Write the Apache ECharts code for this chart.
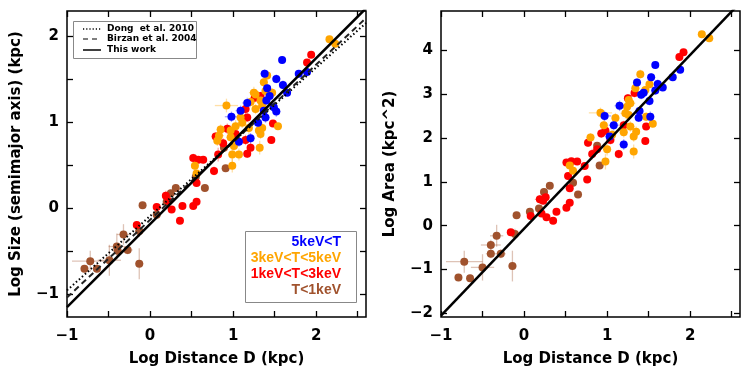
<!DOCTYPE html>
<html>
<head>
<meta charset="utf-8">
<script src="https://cdn.jsdelivr.net/npm/echarts@6/dist/echarts.min.js"></script>
<style>
html,body{margin:0;padding:0;background:#fff;}
#c{width:747px;height:374px;}
</style>
</head>
<body>
<div id="c"></div>
<script>
// ---- Data: [logD, value, xErr, yErr] ----
const sizeBrown = [[-0.79,-0.71,0.04,0.04],[-0.72,-0.62,0.22,0.12],[-0.64,-0.71,0.04,0.05],[-0.49,-0.61,0.14,0.18],[-0.40,-0.45,0.10,0.15],[-0.39,-0.50,0.06,0.07],[-0.32,-0.31,0.08,0.12],[-0.27,-0.49,0.06,0.05],[-0.13,-0.65,0.05,0.18],[-0.13,-0.27,0.05,0.07],[-0.09,0.03,0.04,0.03],[0.08,-0.08,0.03,0.03],[0.20,0.07,0.03,0.03],[0.25,0.17,0.03,0.04],[0.31,0.23,0.03,0.03],[0.55,0.36,0.03,0.03],[0.66,0.23,0.03,0.03],[0.91,0.46,0.03,0.03],[0.89,0.70,0.03,0.03]];
const sizeRed = [[-0.16,-0.20,0.03,0.04],[0.08,0.01,0.03,0.03],[0.19,0.14,0.04,0.06],[0.22,0.08,0.03,0.04],[0.26,-0.02,0.03,0.03],[0.36,-0.15,0.03,0.04],[0.39,0.02,0.03,0.03],[0.52,0.02,0.03,0.03],[0.56,0.07,0.03,0.04],[0.56,0.29,0.03,0.04],[0.52,0.58,0.04,0.05],[0.58,0.56,0.03,0.04],[0.64,0.56,0.03,0.04],[0.77,0.43,0.03,0.05],[0.79,0.83,0.05,0.05],[0.82,0.62,0.04,0.08],[0.88,0.75,0.04,0.06],[0.93,0.92,0.05,0.06],[1.03,0.86,0.04,0.05],[1.15,0.79,0.04,0.06],[1.17,0.63,0.03,0.05],[1.21,0.70,0.04,0.06],[1.15,1.15,0.05,0.06],[1.17,1.05,0.04,0.05],[1.26,1.28,0.04,0.05],[1.33,1.30,0.04,0.05],[1.46,0.79,0.03,0.04],[1.48,0.98,0.03,0.04],[1.89,1.69,0.03,0.03],[1.94,1.78,0.03,0.03]];
const sizeOrange = [[0.54,0.49,0.04,0.05],[0.56,0.40,0.03,0.04],[0.81,0.78,0.05,0.06],[0.83,0.84,0.06,0.08],[0.85,0.91,0.05,0.06],[0.92,1.19,0.14,0.08],[0.97,0.82,0.05,0.07],[0.97,0.90,0.04,0.06],[0.99,0.62,0.05,0.10],[0.99,0.49,0.04,0.08],[1.01,0.72,0.04,0.06],[1.03,0.95,0.05,0.07],[1.07,0.62,0.04,0.07],[1.09,1.05,0.05,0.06],[1.11,0.99,0.05,0.06],[1.19,0.93,0.05,0.07],[1.21,1.23,0.06,0.06],[1.25,1.34,0.06,0.07],[1.27,1.15,0.05,0.06],[1.27,1.32,0.05,0.06],[1.31,0.90,0.04,0.06],[1.32,0.70,0.04,0.08],[1.33,1.25,0.05,0.06],[1.33,0.86,0.04,0.06],[1.35,1.19,0.05,0.06],[1.35,0.93,0.04,0.06],[1.37,1.46,0.05,0.06],[1.39,1.36,0.05,0.06],[1.41,1.54,0.04,0.05],[1.47,1.34,0.04,0.05],[1.54,0.95,0.03,0.04],[2.16,1.96,0.03,0.03],[2.23,1.91,0.03,0.03]];
const sizeBlue = [[0.98,1.06,0.08,0.06],[1.07,0.77,0.05,0.06],[1.09,1.13,0.06,0.06],[1.17,1.22,0.06,0.06],[1.21,0.81,0.05,0.06],[1.30,0.99,0.05,0.06],[1.37,1.13,0.05,0.05],[1.38,1.56,0.05,0.05],[1.39,1.05,0.05,0.06],[1.40,1.25,0.05,0.05],[1.41,1.39,0.04,0.05],[1.44,1.30,0.05,0.05],[1.49,1.17,0.05,0.05],[1.52,1.50,0.05,0.05],[1.52,1.12,0.05,0.06],[1.59,1.72,0.04,0.04],[1.60,1.43,0.05,0.05],[1.65,1.34,0.04,0.04],[1.79,1.56,0.04,0.04],[1.89,1.58,0.04,0.04]];

const areaBrown = [[-0.79,-1.18,0.04,0.08],[-0.72,-0.82,0.22,0.25],[-0.65,-1.20,0.04,0.08],[-0.50,-0.95,0.14,0.30],[-0.40,-0.64,0.06,0.10],[-0.40,-0.44,0.12,0.12],[-0.33,-0.23,0.08,0.25],[-0.28,-0.64,0.06,0.10],[-0.14,-0.92,0.05,0.35],[-0.11,-0.19,0.05,0.12],[-0.09,0.24,0.04,0.06],[0.07,0.32,0.03,0.05],[0.18,0.39,0.03,0.05],[0.24,0.77,0.03,0.06],[0.31,0.91,0.03,0.05],[0.59,0.98,0.03,0.05],[0.65,0.71,0.03,0.06],[0.91,1.37,0.03,0.05],[0.88,1.82,0.03,0.05]];
const areaRed = [[-0.16,-0.15,0.03,0.06],[0.08,0.22,0.03,0.05],[0.19,0.60,0.06,0.10],[0.23,0.57,0.04,0.08],[0.26,0.65,0.03,0.06],[0.21,0.28,0.03,0.05],[0.27,0.19,0.03,0.05],[0.35,0.11,0.03,0.05],[0.39,0.32,0.03,0.05],[0.51,0.41,0.03,0.05],[0.55,0.52,0.03,0.06],[0.55,0.85,0.03,0.08],[0.53,1.13,0.03,0.06],[0.51,1.44,0.04,0.08],[0.57,1.47,0.03,0.06],[0.64,1.46,0.03,0.06],[0.76,1.05,0.03,0.07],[0.73,1.36,0.04,0.08],[0.77,1.89,0.05,0.10],[0.82,1.63,0.04,0.12],[0.88,1.74,0.04,0.10],[0.93,2.10,0.05,0.10],[0.98,2.16,0.04,0.08],[1.04,1.95,0.04,0.10],[1.14,1.63,0.04,0.10],[1.20,2.29,0.04,0.10],[1.25,2.90,0.04,0.10],[1.33,3.02,0.04,0.10],[1.47,2.26,0.03,0.08],[1.46,1.93,0.03,0.08],[1.87,3.84,0.03,0.06],[1.92,3.95,0.03,0.06]];
const areaOrange = [[0.55,1.37,0.04,0.08],[0.59,1.25,0.03,0.07],[0.80,2.01,0.05,0.10],[0.92,2.57,0.14,0.12],[0.96,2.29,0.05,0.12],[0.98,1.46,0.04,0.18],[1.00,1.74,0.05,0.14],[1.06,2.07,0.05,0.12],[1.10,2.45,0.05,0.12],[1.20,2.13,0.05,0.12],[1.22,2.56,0.06,0.12],[1.24,2.71,0.06,0.12],[1.26,2.86,0.05,0.12],[1.26,2.52,0.05,0.12],[1.28,2.26,0.05,0.12],[1.28,2.79,0.06,0.12],[1.32,2.03,0.04,0.12],[1.32,1.69,0.04,0.16],[1.34,3.13,0.05,0.10],[1.35,2.14,0.04,0.12],[1.40,3.45,0.04,0.10],[1.46,3.09,0.05,0.10],[1.47,2.48,0.04,0.10],[1.51,3.22,0.04,0.10],[1.55,2.32,0.03,0.08],[2.14,4.36,0.03,0.06],[2.23,4.27,0.03,0.06]];
const areaBlue = [[0.97,2.50,0.08,0.12],[1.08,2.29,0.06,0.12],[1.03,2.03,0.05,0.12],[1.15,2.73,0.06,0.12],[1.20,1.85,0.05,0.12],[1.36,3.26,0.05,0.10],[1.39,2.61,0.05,0.10],[1.38,2.46,0.05,0.10],[1.41,2.98,0.05,0.10],[1.44,3.03,0.05,0.10],[1.53,3.38,0.05,0.10],[1.52,2.48,0.05,0.12],[1.51,2.84,0.05,0.10],[1.58,3.66,0.04,0.08],[1.61,3.23,0.05,0.10],[1.58,3.08,0.05,0.10],[1.67,3.15,0.04,0.08],[1.79,3.38,0.04,0.08],[1.88,3.55,0.04,0.08]];

// fits: [slope, intercept]
const fitDong = [0.864, -0.096];
const fitBirzan = [0.903, -0.14];
const fitThisSize = [0.966, -0.19];
const fitThisArea = [1.98, -0.07];

const xTicks = [-1,-0.5,0,0.5,1,1.5,2,2.5];
const xLabels = [-1,0,1,2];
const sizeTicks = [-1,-0.5,0,0.5,1,1.5,2];
const sizeLabels = [-1,0,1,2];
const areaTicks = [-2,-1,0,1,2,3,4];
const areaLabels = [-2,-1,0,1,2,3,4];
const classNames = ['5keV<T','3keV<T<5keV','1keV<T<3keV','T<1keV'];

const XMIN=-1, XMAX=2.6;
const C = {blue:'#0000ff', orange:'#ffa500', red:'#ff0000', brown:'#a0522d'};
const FONT = '"DejaVu Sans", sans-serif';
const FONT2 = '"Liberation Sans", Arial, sans-serif';

function fitLine(f){ return [[XMIN, f[1]+f[0]*XMIN],[XMAX, f[1]+f[0]*XMAX]]; }
const fmt = v => String(v).replace('-', '\u2212');

function errSeries(data, color, xi, yi){
  return {type:'custom', xAxisIndex:xi, yAxisIndex:yi, data:data, silent:true, z:1, clip:true,
    encode:{x:0,y:1},
    renderItem:function(params, api){
      const x=api.value(0), y=api.value(1), xe=api.value(2), ye=api.value(3);
      const a=api.coord([x-xe,y]), b=api.coord([x+xe,y]), c=api.coord([x,y-ye]), d=api.coord([x,y+ye]);
      const st={stroke:color, lineWidth:1.3, opacity:0.35};
      return {type:'group', children:[
        {type:'line', shape:{x1:a[0],y1:a[1],x2:b[0],y2:b[1]}, style:st},
        {type:'line', shape:{x1:c[0],y1:c[1],x2:d[0],y2:d[1]}, style:st}
      ]};
    }};
}
function scat(data, color, xi, yi){
  return {type:'scatter', xAxisIndex:xi, yAxisIndex:yi, data:data.map(p=>[p[0],p[1]]), symbolSize:8,
    itemStyle:{color:color, opacity:1}, z:2, silent:true};
}
function lineS(data, xi, yi, type, width, color){
  return {type:'line', xAxisIndex:xi, yAxisIndex:yi, data:data, symbol:'none', clip:true, z:3, silent:true,
    lineStyle:{color:color, width:width, type:type}};
}
const labelStyle = {color:'#000', fontSize:15, fontWeight:'bold', fontFamily:FONT};
function xAx(grid, pos, show){
  return {type:'value', gridIndex:grid, position:pos, min:XMIN, max:XMAX,
    axisLine:{show:false, onZero:false}, splitLine:{show:false},
    axisTick:{show:true, inside:true, length:6, lineStyle:{color:'#000', width:1.3}, customValues:xTicks},
    axisLabel:{show:show, customValues:xLabels, formatter:fmt, margin:12, ...labelStyle},
    name: show ? 'Log Distance D (kpc)' : '', nameLocation:'middle', nameGap:35,
    nameTextStyle:{...labelStyle}};
}
function yAx(grid, pos, show, min, max, ticks, labels, name, gap){
  return {type:'value', gridIndex:grid, position:pos, min:min, max:max,
    axisLine:{show:false, onZero:false}, splitLine:{show:false},
    axisTick:{show:true, inside:true, length:6, lineStyle:{color:'#000', width:1.3}, customValues:ticks},
    axisLabel:{show:show, customValues:labels, formatter:fmt, margin:8, ...labelStyle},
    name: show ? name : '', nameLocation:'middle', nameGap:gap, nameRotate:90,
    nameTextStyle:{...labelStyle}};
}

const chart = echarts.init(document.getElementById('c'), null, {renderer:'canvas'});
const option = {
  animation:false,
  backgroundColor:'#fff',
  grid:[
    {left:67, top:11, width:299, height:306, show:true, borderColor:'#000', borderWidth:1.5, backgroundColor:'transparent'},
    {left:441, top:11, width:299, height:306, show:true, borderColor:'#000', borderWidth:1.5, backgroundColor:'transparent'}
  ],
  xAxis:[ xAx(0,'bottom',true), xAx(0,'top',false), xAx(1,'bottom',true), xAx(1,'top',false) ],
  yAxis:[
    yAx(0,'left',true,-1.27,2.29,sizeTicks,sizeLabels,'Log Size (semimajor axis) (kpc)',43),
    yAx(0,'right',false,-1.27,2.29,sizeTicks,sizeLabels,'',0),
    yAx(1,'left',true,-2.08,4.89,areaTicks,areaLabels,'Log Area (kpc^2)',43),
    yAx(1,'right',false,-2.08,4.89,areaTicks,areaLabels,'',0)
  ],
  series:[
    errSeries(sizeBrown,C.brown,0,0), errSeries(sizeRed,C.red,0,0), errSeries(sizeOrange,C.orange,0,0), errSeries(sizeBlue,C.blue,0,0),
    scat(sizeBrown,C.brown,0,0), scat(sizeRed,C.red,0,0), scat(sizeOrange,C.orange,0,0), scat(sizeBlue,C.blue,0,0),
    lineS(fitLine(fitDong),0,0,[1.5,2.5],2,'#000'),
    lineS(fitLine(fitBirzan),0,0,[6,4],2,'#222'),
    lineS(fitLine(fitThisSize),0,0,'solid',2.5,'#000'),
    errSeries(areaBrown,C.brown,2,2), errSeries(areaRed,C.red,2,2), errSeries(areaOrange,C.orange,2,2), errSeries(areaBlue,C.blue,2,2),
    scat(areaBrown,C.brown,2,2), scat(areaRed,C.red,2,2), scat(areaOrange,C.orange,2,2), scat(areaBlue,C.blue,2,2),
    lineS(fitLine(fitThisArea),2,2,'solid',2.5,'#000')
  ],
  graphic:[
    {type:'rect', shape:{x:73.5,y:21.5,width:123,height:37}, style:{fill:'#fff', stroke:'#888', lineWidth:1}, z:10},
    {type:'line', shape:{x1:83,y1:29,x2:101,y2:29}, style:{stroke:'#000', lineWidth:1.5, lineDash:[1.2,2]}, z:11},
    {type:'line', shape:{x1:83,y1:39,x2:101,y2:39}, style:{stroke:'#555', lineWidth:1.5, lineDash:[5,4]}, z:11},
    {type:'line', shape:{x1:83,y1:50,x2:101,y2:50}, style:{stroke:'#000', lineWidth:1.5}, z:11},
    {type:'text', x:107, y:29, style:{text:'Dong  et al. 2010', fill:'#000', font:'bold 9px '+FONT, verticalAlign:'middle'}, z:11},
    {type:'text', x:107, y:39, style:{text:'Birzan et al. 2004', fill:'#000', font:'bold 9px '+FONT, verticalAlign:'middle'}, z:11},
    {type:'text', x:107, y:50, style:{text:'This work', fill:'#000', font:'bold 9px '+FONT, verticalAlign:'middle'}, z:11},
    {type:'rect', shape:{x:245.5,y:231.5,width:111,height:71}, style:{fill:'#fff', stroke:'#888', lineWidth:1}, z:10},
    {type:'text', x:341, y:242, style:{text:classNames[0], fill:C.blue, font:'bold 14px '+FONT2, align:'right', verticalAlign:'middle'}, z:11},
    {type:'text', x:341, y:258, style:{text:classNames[1], fill:C.orange, font:'bold 14px '+FONT2, align:'right', verticalAlign:'middle'}, z:11},
    {type:'text', x:341, y:274, style:{text:classNames[2], fill:C.red, font:'bold 14px '+FONT2, align:'right', verticalAlign:'middle'}, z:11},
    {type:'text', x:341, y:290, style:{text:classNames[3], fill:C.brown, font:'bold 14px '+FONT2, align:'right', verticalAlign:'middle'}, z:11}
  ]
};
chart.setOption(option);
</script>
</body>
</html>
